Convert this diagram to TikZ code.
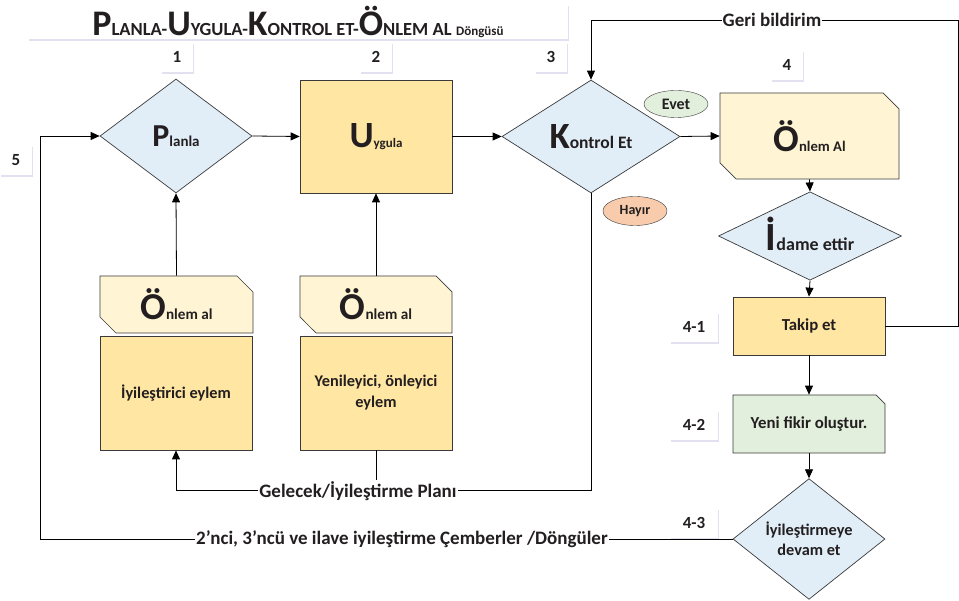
\documentclass[tikz,border=0pt]{standalone}
\usepackage{fontspec}
\setmainfont{Carlito}
\usetikzlibrary{arrows.meta,shapes.geometric,shapes.misc,shadows}

\definecolor{cizgi}{HTML}{3A3A3A}
\definecolor{yazi}{HTML}{231F20}
\definecolor{mavi}{HTML}{E1EEF8}
\definecolor{sari}{HTML}{FFE6A3}
\definecolor{krem}{HTML}{FFF5D4}
\definecolor{yesil}{HTML}{E3EFDD}
\definecolor{somon}{HTML}{F8CBAD}

% buyuk ilk harf + kucuk devami
\newcommand{\harf}[4]{{\fontsize{#1}{#1}\selectfont #2}{\fontsize{#3}{#3}\selectfont #4}}

\tikzset{
  every node/.style={font=\bfseries, text=yazi},
  karar/.style={diamond, draw=cizgi, fill=mavi, inner sep=0pt, line width=0.7pt, align=center},
  kutu/.style={rectangle, draw=cizgi, fill=sari, inner sep=0pt, line width=0.7pt, align=center},
  onlemkutu/.style={chamfered rectangle, chamfered rectangle corners={north east,south west},
    chamfered rectangle xsep=8pt, chamfered rectangle ysep=8pt,
    draw=cizgi, fill=krem, inner sep=0pt, line width=0.7pt},
  golge/.style={drop shadow={shadow xshift=0.5pt, shadow yshift=-2pt, opacity=.18, fill=blue!30!gray}},
  numara/.style={fill=white, inner sep=0pt, minimum height=30pt, golge,
    font=\bfseries\fontsize{17}{17}\selectfont},
  etiket/.style={fill=white, inner sep=1pt, font=\bfseries\fontsize{19}{19}\selectfont},
  ok/.style={-{Triangle[length=9pt,width=8pt]}, draw=black, line width=0.8pt},
  hat/.style={draw=black, line width=0.8pt}
}

\begin{document}
\begin{tikzpicture}[x=1pt,y=-1pt]
  \useasboundingbox (0,0) rectangle (959,601);

  % baslik
  \node[fill=white, minimum width=540pt, minimum height=35pt, inner sep=0pt, golge]
        (baslik) at (298,21.5)
        {\harf{36}{P}{18.5}{LANLA-}\harf{36}{U}{18.5}{YGULA-}\harf{36}{K}{18.5}{ONTROL ET-}\harf{36}{Ö}{18.5}{NLEM AL}\ \ {\fontsize{13}{13}\selectfont Döngüsü}};

  % numaralar
  \node[numara, minimum width=32pt] (no1) at (177,57) {1};
  \node[numara, minimum width=32pt] (no2) at (376,57) {2};
  \node[numara, minimum width=32pt] (no3) at (551,57) {3};
  \node[numara, minimum width=32pt] (no4) at (787,65) {4};
  \node[numara, minimum width=32pt] (no5) at (16,160) {5};
  \node[numara, minimum width=48pt] (no41) at (694,327) {4-1};
  \node[numara, minimum width=48pt] (no42) at (694,425) {4-2};
  \node[numara, minimum width=48pt] (no43) at (694,523) {4-3};

  % ust sira
  \node[karar, minimum width=152pt, minimum height=114pt] (planla) at (176,136) {\harf{32}{P}{15}{lanla}};
  \node[kutu, minimum width=152pt, minimum height=113pt] (uygula) at (376,136.5) {\harf{37}{U}{13}{ygula}};
  \node[karar, minimum width=178pt, minimum height=113pt] (kontrol) at (591,136.5) {\harf{37}{K}{17.5}{ontrol Et}};
  \node[onlemkutu, minimum width=179pt, minimum height=86pt] (onlemal) at (809.5,136) {\harf{38}{Ö}{14.7}{nlem Al}};
  \node[ellipse, draw=cizgi, fill=yesil, minimum width=64pt, minimum height=27pt, inner sep=0pt,
        font=\bfseries\fontsize{16}{16}\selectfont] (evet) at (676,104) {Evet};
  \node[ellipse, draw=cizgi, fill=somon, minimum width=64pt, minimum height=29pt, inner sep=0pt,
        font=\bfseries\fontsize{14}{14}\selectfont] (hayir) at (635,211) {Hayır};

  % sag sutun
  \node[karar, minimum width=183pt, minimum height=84pt] (idame) at (810,236)
        {\smash{\raisebox{-15pt}{\harf{40}{İ}{18}{dame ettir}}}};
  \node[kutu, minimum width=152pt, minimum height=58pt, font=\bfseries\fontsize{16.8}{16.8}\selectfont] (takip) at (809,326) {Takip et};
  \node[chamfered rectangle, chamfered rectangle corners=north east,
        chamfered rectangle xsep=4.5pt, chamfered rectangle ysep=4.5pt,
        draw=cizgi, fill=yesil, line width=0.7pt, inner sep=0pt,
        minimum width=152pt, minimum height=58pt,
        font=\bfseries\fontsize{16.8}{16.8}\selectfont] (yenifikir) at (809,424) {Yeni fikir oluştur.};
  \node[karar, minimum width=152pt, minimum height=113pt,
        font=\bfseries\fontsize{16.3}{20}\selectfont] (devam) at (809,539) {İyileştirmeye\\devam et};

  % sol alt
  \node[onlemkutu, minimum width=153pt, minimum height=57pt] (onlem1) at (176.5,304.5) {\harf{38}{Ö}{15.2}{nlem al}};
  \node[onlemkutu, minimum width=152pt, minimum height=57pt] (onlem2) at (376,304.5) {\harf{38}{Ö}{15.2}{nlem al}};
  \node[kutu, minimum width=152pt, minimum height=114pt, font=\bfseries\fontsize{16.3}{21}\selectfont] (eylem1) at (176,393) {İyileştirici eylem};
  \node[kutu, minimum width=152pt, minimum height=114pt, font=\bfseries\fontsize{16.3}{21}\selectfont] (eylem2) at (376,393) {Yenileyici, önleyici\\eylem};

  % oklar
  \draw[ok] (planla.east) -- (uygula.west);
  \draw[ok] (uygula.east) -- (kontrol.west);
  \draw[ok] (kontrol.east) -- (onlemal.west);
  \draw[ok] (onlemal.south) -- (idame.north);
  \draw[ok] (idame.south) -- (takip.north);
  \draw[ok] (takip.south) -- (yenifikir.north);
  \draw[ok] (yenifikir.south) -- (devam.north);
  \draw[ok] (onlem1.north) -- (planla.south);
  \draw[ok] (onlem2.north) -- (uygula.south);

  % geri bildirim
  \coordinate (geriust) at (958,20);
  \draw[ok] (takip.east) -| (geriust) -| (kontrol.north);
  \node[etiket] (geri) at (772,20) {Geri bildirim};

  % gelecek plan
  \coordinate (planalt) at (591,490);
  \draw[ok] (kontrol.south) -- (planalt) -| (eylem1.south);
  \draw[hat] (eylem2.south) -- (eylem2.south |- planalt);
  \node[etiket] (gelecek) at (358,491) {Gelecek/İyileştirme Planı};

  % donguler
  \coordinate (dongusol) at (40,539);
  \draw[ok] (devam.west) -- (dongusol) |- (planla.west);
  \node[etiket] (dongu) at (402,539) {2'nci, 3'ncü ve ilave iyileştirme Çemberler /Döngüler};
\end{tikzpicture}
\end{document}
